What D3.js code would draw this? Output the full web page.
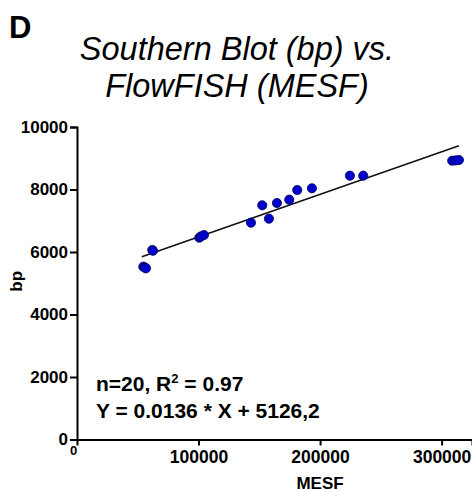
<!DOCTYPE html>
<html>
<head>
<meta charset="utf-8">
<script src="https://cdn.jsdelivr.net/npm/d3@7"></script>
<style>
  html, body { margin: 0; padding: 0; background: #fff; }
  svg { display: block; font-family: "Liberation Sans", Arial, sans-serif; }
</style>
</head>
<body>
<svg id="chart" width="472" height="492"></svg>
<script>
// ---- data ----
const mesf = [54540, 56000, 56760, 61940, 62500, 100600, 102000, 104470, 143130, 152420,
              157930, 164510, 174630, 181210, 193300, 224560, 235500, 308710, 311500, 314220];
const bp   = [5530, 5500, 5478, 6064, 6040, 6458, 6500, 6544, 6938, 7494,
              7066, 7568, 7674, 7984, 8038, 8442, 8442, 8922, 8930, 8944];
const fitSlope = 0.0136;
const fitIntercept = 5126.2;
const xTicks = [0, 100000, 200000, 300000];
const yTicks = [0, 2000, 4000, 6000, 8000, 10000];
const titleLines = ["Southern Blot (bp) vs.", "FlowFISH (MESF)"];
const statLine1 = ["n=20, R", "2", " = 0.97"];
const statLine2 = "Y = 0.0136 * X + 5126,2";

const svg = d3.select("#chart");
const x = d3.scaleLinear().domain([0, 325000]).range([77, 472]);
const y = d3.scaleLinear().domain([0, 10000]).range([439.5, 127]);

// panel letter
svg.append("text").attr("x", 9).attr("y", 38)
  .attr("font-size", 31).attr("font-weight", "bold").text("D");

// title
svg.selectAll("text.title").data(titleLines).enter().append("text")
  .attr("class", "title")
  .attr("x", 237).attr("y", (d, i) => 60 + i * 37)
  .attr("text-anchor", "middle").attr("font-size", 32.5).attr("font-style", "italic")
  .text(d => d);

// y axis
const yAxis = svg.append("g").attr("transform", `translate(${x(0)},0)`)
  .call(d3.axisLeft(y).tickValues(yTicks).tickFormat(d3.format("d")).tickSize(7).tickPadding(2));
yAxis.select(".domain").attr("stroke", "#000").attr("stroke-width", 2);
yAxis.selectAll(".tick line").attr("stroke", "#000").attr("stroke-width", 2);
yAxis.selectAll(".tick text").attr("font-size", 17).attr("font-weight", "bold")
  .attr("fill", "#000").attr("font-family", "Liberation Sans, Arial, sans-serif");

// x axis
const xAxis = svg.append("g").attr("transform", `translate(0,${y(0)})`)
  .call(d3.axisBottom(x).tickValues(xTicks).tickFormat(d3.format("d")).tickSize(6).tickPadding(5));
xAxis.select(".domain").attr("stroke", "#000").attr("stroke-width", 2);
xAxis.selectAll(".tick line").attr("stroke", "#000").attr("stroke-width", 2);
xAxis.selectAll(".tick text").attr("font-size", 17.5).attr("font-weight", "bold")
  .attr("fill", "#000").attr("font-family", "Liberation Sans, Arial, sans-serif");
xAxis.selectAll(".tick").filter(d => d === 0).select("text")
  .attr("font-size", 13).attr("dy", "0.35em").attr("x", -4);
xAxis.selectAll(".tick").filter(d => d === 0).select("line").remove();

// axis titles
svg.append("text").attr("x", x(200000)).attr("y", 489)
  .attr("text-anchor", "middle").attr("font-size", 17).attr("font-weight", "bold").text("MESF");
svg.append("text").attr("transform", `translate(22,${(y(0) + y(10000)) / 2 - 2}) rotate(-90)`)
  .attr("text-anchor", "middle").attr("font-size", 17).attr("font-weight", "bold").text("bp");

// regression line
const ext = d3.extent(mesf);
svg.append("line")
  .attr("x1", x(ext[0] - 1200)).attr("y1", y(fitSlope * (ext[0] - 1200) + fitIntercept))
  .attr("x2", x(ext[1])).attr("y2", y(fitSlope * ext[1] + fitIntercept))
  .attr("stroke", "#111").attr("stroke-width", 1.6);

// points
svg.selectAll("circle.pt").data(mesf).enter().append("circle")
  .attr("class", "pt")
  .attr("cx", d => x(d)).attr("cy", (d, i) => y(bp[i])).attr("r", 4.6)
  .attr("fill", "#0000cc").attr("stroke", "#00005a").attr("stroke-width", 0.8);

// stats
const s1 = svg.append("text").attr("x", 96).attr("y", 391)
  .attr("font-size", 21).attr("font-weight", "bold");
s1.append("tspan").text(statLine1[0]);
s1.append("tspan").attr("font-size", 13).attr("dy", -8).text(statLine1[1]);
s1.append("tspan").attr("dy", 8).text(statLine1[2]);
svg.append("text").attr("x", 96).attr("y", 418)
  .attr("font-size", 21).attr("font-weight", "bold").text(statLine2);
</script>
</body>
</html>
